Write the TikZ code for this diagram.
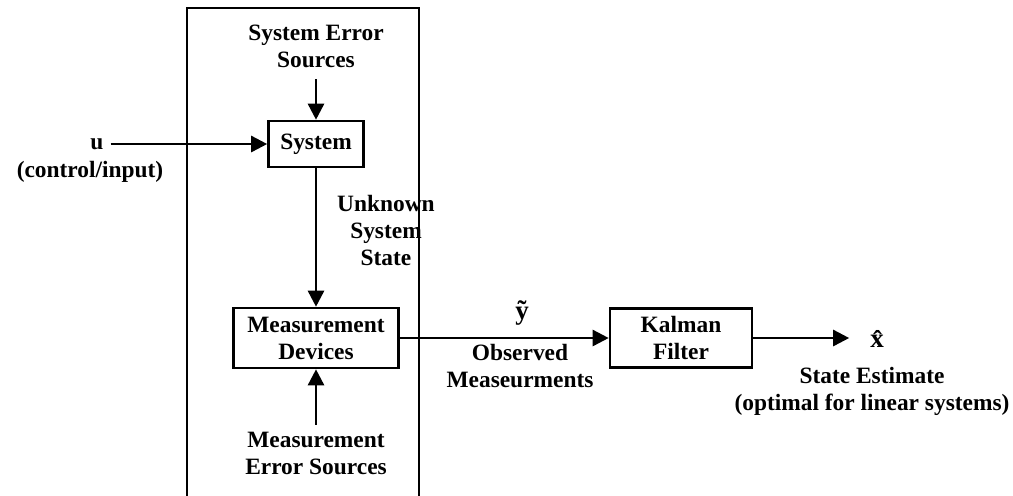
\documentclass[tikz,border=0pt]{standalone}
\usepackage{fontspec}
\setmainfont{Liberation Serif}
\usetikzlibrary{arrows.meta,positioning}

\begin{document}
\begin{tikzpicture}[x=0.5pt,y=-0.5pt,
    font={\fontsize{11.7}{13.5}\selectfont\bfseries},
    block/.style={draw, line width=1.3pt, align=center, inner sep=1pt},
    txt/.style={align=center},
    flow/.style={-{Triangle[length=8pt,width=8pt]}, line width=1.3pt}]
  \useasboundingbox (0,0) rectangle (1013,495);

  % frame round the plant
  \draw[line width=1.3pt] (187,497) -- (187,8) -- (419,8) -- (419,497);

  % blocks
  \node[block, minimum width=47.5pt, minimum height=23pt] (sys) at (316,144) {System};
  \node[block, minimum width=82.5pt, minimum height=30pt] (meas) at (316,338) {Measurement\\Devices};
  \node[block, minimum width=71pt, minimum height=29.5pt] (kal) at (681,338) {Kalman\\Filter};

  % texts
  \node[txt] (syserr) at (316,46) {System Error\\Sources};
  \node[txt] (u) at (97,144) {u};
  \node[txt] (uctl) at (90,172) {(control/input)};
  \node[txt] (state) at (386,230) {Unknown\\System\\State};
  \node[txt] (measerr) at (316,453) {Measurement\\Error Sources};
  \node[txt] (ytil) at (522,313) {\fontsize{13.5}{14}\selectfont ỹ};
  \node[txt] (obs) at (520,366) {Observed\\Measeurments};
  \node[txt] (xhat) at (877,339) {\fontsize{13.5}{14}\selectfont \^{x}};
  \node[txt] (est) at (872,391) {State Estimate\\(optimal for linear systems)};

  % connectors
  \draw[flow, shorten <=2.5pt] (syserr) -- (sys);
  \draw[flow] (u) -- (sys);
  \draw[flow] (sys) -- (meas);
  \draw[flow] (measerr) -- (meas);
  \draw[flow] (meas) -- (kal);
  \draw[flow, shorten >=7pt] (kal.east) -- (kal.east -| xhat.west);
\end{tikzpicture}
\end{document}
